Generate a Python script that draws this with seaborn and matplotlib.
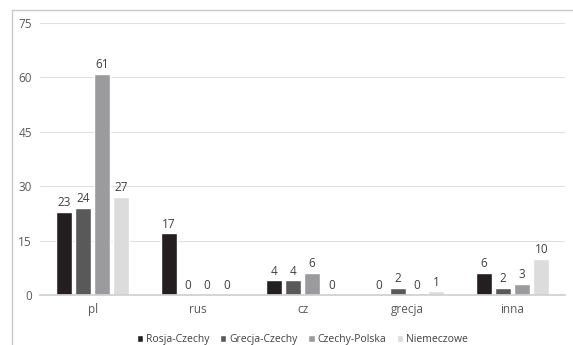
import matplotlib
matplotlib.use("Agg")
import matplotlib.pyplot as plt
import seaborn as sns
import pandas as pd
from matplotlib.lines import Line2D

categories = ["pl", "rus", "cz", "grecja", "inna"]
series = ["Rosja-Czechy", "Grecja-Czechy", "Czechy-Polska", "Niemeczowe"]
rosja_czechy = [23, 17, 4, 0, 6]
grecja_czechy = [24, 0, 4, 2, 2]
czechy_polska = [61, 0, 6, 0, 3]
niemeczowe = [27, 0, 0, 1, 10]
yticks = [0, 15, 30, 45, 60, 75]

colors = ["#231f20", "#595959", "#9b9b9d", "#dcdcdc"]

rows = []
for s, vals in zip(series, [rosja_czechy, grecja_czechy, czechy_polska, niemeczowe]):
    for c, v in zip(categories, vals):
        rows.append({"cat": c, "series": s, "value": v})
df = pd.DataFrame(rows)

sns.set_theme(style="white")
plt.rcParams['font.family'] = ['Open Sans', 'DejaVu Sans']

fig = plt.figure(figsize=(5.73, 3.45), dpi=100)
ax = fig.add_axes([0.07, 0.145, 0.916, 0.788])

sns.barplot(data=df, x="cat", y="value", hue="series", palette=colors,
            order=categories, hue_order=series, width=0.73, gap=0.17,
            ax=ax, saturation=1, legend=True)

ax.set_ylim(0, 75)
ax.set_yticks(yticks)
ax.yaxis.grid(True, color="#e0e0e0", linewidth=0.8)
ax.set_axisbelow(True)
for sp in ["top", "right", "left"]:
    ax.spines[sp].set_visible(False)
ax.spines["bottom"].set_color("#d0d0d0")
ax.set_xlabel("")
ax.set_ylabel("")
ax.tick_params(axis="both", length=0, labelsize=8.5, colors="#595959", pad=6)

for cont in ax.containers:
    ax.bar_label(cont, fmt="%d", fontsize=8.5, color="#404040", padding=2)

handles, labels = ax.get_legend_handles_labels()
ax.legend(handles, labels, loc="upper center", bbox_to_anchor=(0.5, -0.11),
          ncol=4, frameon=False, fontsize=7.5, handlelength=0.6, handleheight=0.6,
          handletextpad=0.3, columnspacing=1.0, labelcolor="#404040")

fig.add_artist(Line2D([12/573, 12/573], [0, 1 - 10/345], transform=fig.transFigure,
                      color="#c8c8c8", linewidth=1))
fig.add_artist(Line2D([12/573, 1], [1 - 10/345, 1 - 10/345], transform=fig.transFigure,
                      color="#c8c8c8", linewidth=1))

fig.savefig("out.png", dpi=100)
